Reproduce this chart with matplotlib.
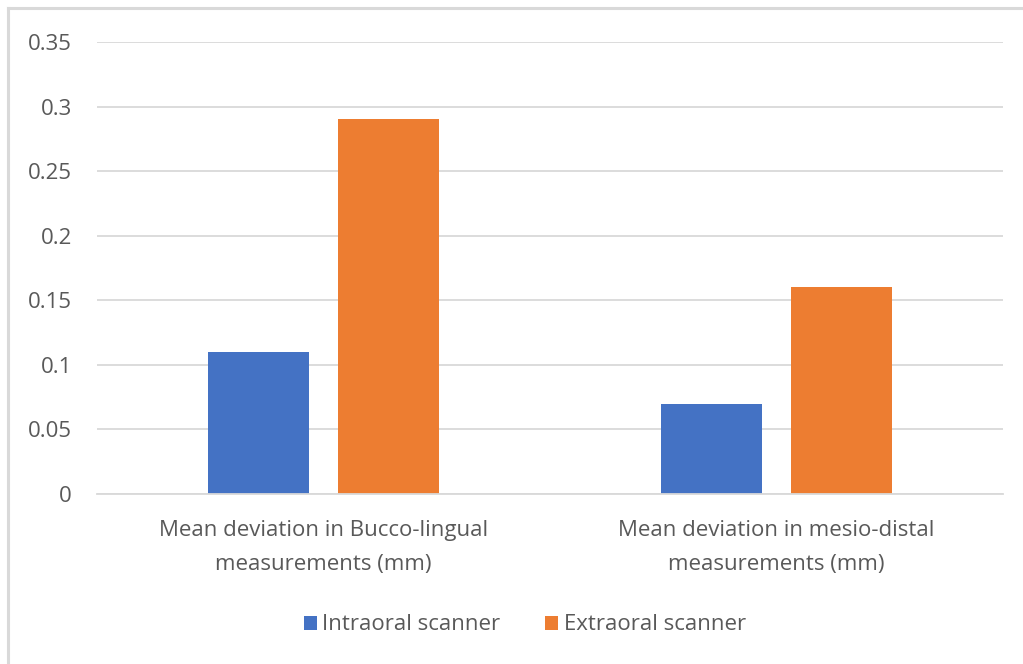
import matplotlib
matplotlib.use("Agg")
import matplotlib.pyplot as plt
import numpy as np
from matplotlib.lines import Line2D

categories = ["Mean deviation in Bucco-lingual\nmeasurements (mm)",
              "Mean deviation in mesio-distal\nmeasurements (mm)"]
series_names = ["Intraoral scanner", "Extraoral scanner"]
intraoral = [0.11, 0.07]
extraoral = [0.29, 0.16]
yticks = [0, 0.05, 0.1, 0.15, 0.2, 0.25, 0.3, 0.35]
ytick_labels = ["0", "0.05", "0.1", "0.15", "0.2", "0.25", "0.3", "0.35"]

colors = ["#4472C4", "#ED7D31"]
text_color = "#595959"
grid_color = "#D9D9D9"

plt.rcParams['font.family'] = ['Open Sans', 'DejaVu Sans']

fig = plt.figure(figsize=(10.23, 6.64), dpi=100)
ax = fig.add_axes([97/1023, 170/664, 906/1023, 452/664])

x = np.arange(len(categories))
w = 0.223
off = 0.1425
ax.bar(x - off, intraoral, w, color=colors[0], label=series_names[0], zorder=3)
ax.bar(x + off, extraoral, w, color=colors[1], label=series_names[1], zorder=3)

ax.set_xlim(-0.5, 1.5)
ax.set_ylim(0, 0.35)
ax.set_yticks(yticks)
ax.set_yticklabels(ytick_labels)
ax.set_xticks(x)
ax.set_xticklabels(categories, linespacing=1.78)
ax.tick_params(axis='both', length=0, colors=text_color, labelsize=16)
ax.tick_params(axis='y', pad=18)
ax.tick_params(axis='x', pad=19)
ax.yaxis.grid(True, color=grid_color, linewidth=1.3, zorder=0)
for s in ['top', 'right', 'left']:
    ax.spines[s].set_visible(False)
ax.spines['bottom'].set_color(grid_color)
ax.spines['bottom'].set_linewidth(1.3)
ax.spines['bottom'].set_zorder(4)

leg = fig.legend(loc='center', bbox_to_anchor=(0.513, 1 - 625/664), ncol=2,
                 frameon=False, fontsize=16, handlelength=0.6, handleheight=0.6,
                 handletextpad=0.25, columnspacing=2.0)
for t in leg.get_texts():
    t.set_color(text_color)

# outer border (top and left visible)
fig.add_artist(Line2D([8/1023, 8/1023], [0, 1 - 8/664], transform=fig.transFigure,
                      color="#D9D9D9", linewidth=2.2))
fig.add_artist(Line2D([8/1023, 1], [1 - 8/664, 1 - 8/664], transform=fig.transFigure,
                      color="#D9D9D9", linewidth=2.2))

fig.savefig("out.png", dpi=100)
